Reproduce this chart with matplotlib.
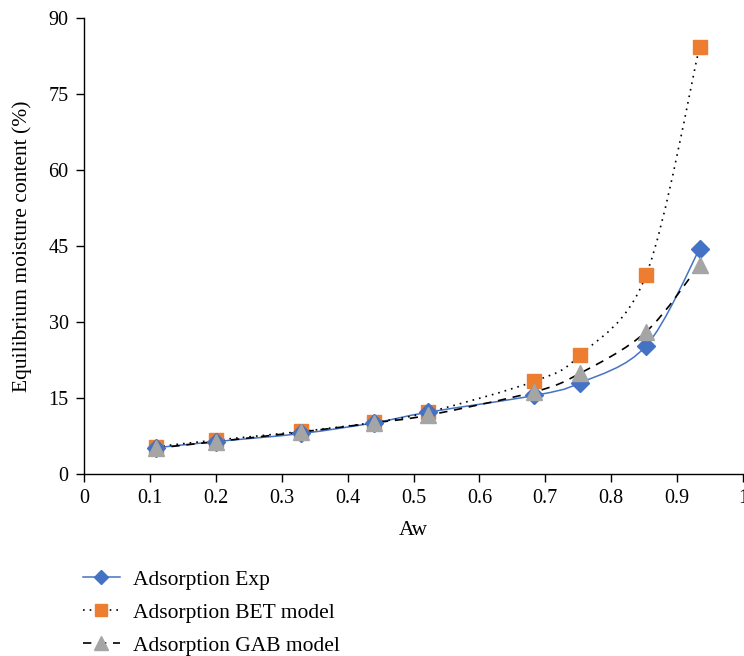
import matplotlib
matplotlib.use("Agg")
import matplotlib.pyplot as plt
import numpy as np
from matplotlib.path import Path
from matplotlib.patches import PathPatch
from matplotlib.lines import Line2D

aw = [0.11, 0.20, 0.33, 0.44, 0.522, 0.683, 0.753, 0.853, 0.934]
exp_vals = [5.2, 6.4, 8.0, 10.1, 12.2, 15.5, 18.0, 25.3, 44.4]
bet_vals = [5.4, 6.7, 8.4, 10.2, 12.2, 18.3, 23.5, 39.3, 84.3]
gab_vals = [5.1, 6.4, 8.3, 10.1, 11.6, 16.2, 19.9, 28.1, 41.3]
labels = ["Adsorption Exp", "Adsorption BET model", "Adsorption GAB model"]
xticks = [0, 0.1, 0.2, 0.3, 0.4, 0.5, 0.6, 0.7, 0.8, 0.9, 1]
xticklabels = ["0", "0.1", "0.2", "0.3", "0.4", "0.5", "0.6", "0.7", "0.8", "0.9", "1"]
yticks = [0, 15, 30, 45, 60, 75, 90]

plt.rcParams['font.family'] = ['Liberation Serif', 'DejaVu Serif']

fig = plt.figure(figsize=(7.44, 6.56), dpi=100)
ax = fig.add_axes([0.1129, 0.2774, 0.8858, 0.6951])


def smooth_path(x, y):
    pts = np.column_stack([x, y]).astype(float)
    n = len(pts)
    verts = [pts[0]]
    codes = [Path.MOVETO]
    for i in range(n - 1):
        p0 = pts[i - 1] if i > 0 else pts[i]
        p1 = pts[i]
        p2 = pts[i + 1]
        p3 = pts[i + 2] if i + 2 < n else pts[i + 1]
        c1 = p1 + (p2 - p0) / 6.0
        c2 = p2 - (p3 - p1) / 6.0
        verts += [c1, c2, p2]
        codes += [Path.CURVE4] * 3
    return Path(verts, codes)


blue = '#4472C4'
orange = '#ED7D31'
gray = '#A5A5A5'

styles = [
    dict(color=blue, ls='-', lw=1.1, marker='D', mfc=blue, ms=9),
    dict(color='black', ls=(0, (1, 3)), lw=1.2, marker='s', mfc=orange, ms=10),
    dict(color='black', ls=(0, (5, 4)), lw=1.2, marker='^', mfc=gray, ms=11),
]
series = [exp_vals, bet_vals, gab_vals]

for vals, st in zip(series, styles):
    patch = PathPatch(smooth_path(aw, vals), fill=False, edgecolor=st['color'],
                      linestyle=st['ls'], lw=st['lw'], transform=ax.transData, zorder=2)
    ax.add_patch(patch)

for vals, st in zip([bet_vals, exp_vals, gab_vals], [styles[1], styles[0], styles[2]]):
    ax.plot(aw, vals, ls='none', marker=st['marker'], mfc=st['mfc'], mec=st['mfc'],
            ms=st['ms'], zorder=3, clip_on=False)

ax.set_xlim(0, 1)
ax.set_ylim(0, 90)
ax.set_xticks(xticks)
ax.set_xticklabels(xticklabels)
ax.set_yticks(yticks)
for s in ['top', 'right']:
    ax.spines[s].set_visible(False)
for s in ['left', 'bottom']:
    ax.spines[s].set_linewidth(1.0)
ax.tick_params(direction='out', length=6, width=1, labelsize=14.5, pad=5)
ax.set_xlabel('Aw', fontsize=15.5)
ax.set_ylabel('Equilibrium moisture content (%)', fontsize=15.5)
ax.xaxis.set_label_coords(0.5, -0.103)
ax.yaxis.set_label_coords(-0.079, 0.5)

handles = [Line2D([], [], color=st['color'], ls=st['ls'], lw=st['lw'], marker=st['marker'],
                  mfc=st['mfc'], mec=st['mfc'], ms=st['ms'] - 1.5) for st in styles]
fig.legend(handles, labels, loc='upper left', bbox_to_anchor=(0.1, 0.145), frameon=False,
           fontsize=15.5, handlelength=1.7, labelspacing=0.6, borderaxespad=0,
           handletextpad=0.6)

fig.savefig('out.png', dpi=100)
